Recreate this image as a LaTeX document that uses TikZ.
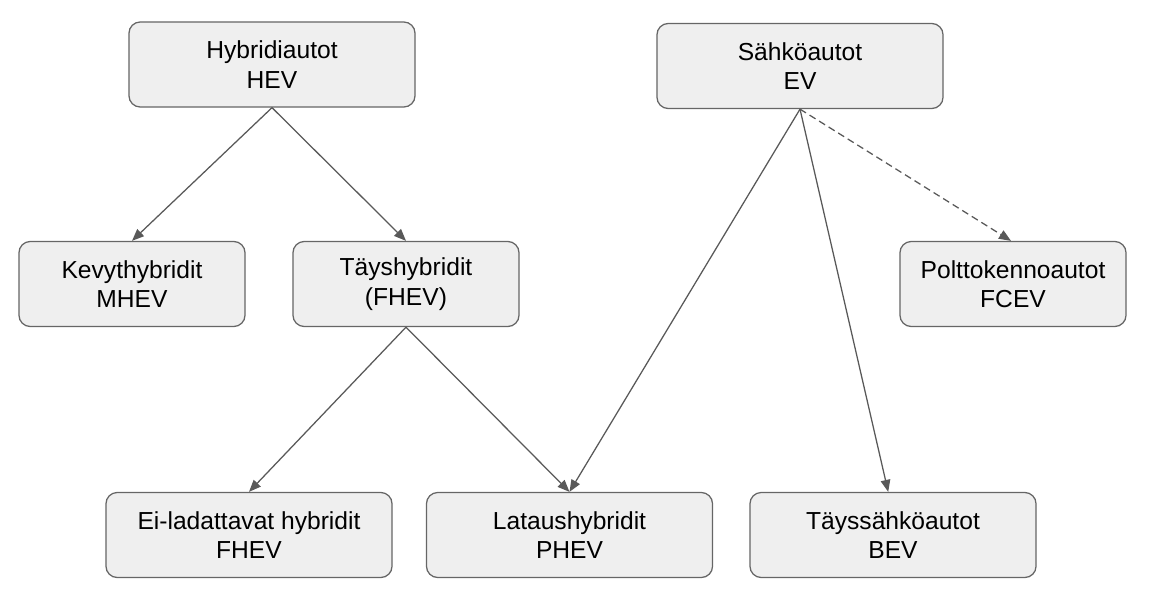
\documentclass[tikz,border=0pt]{standalone}
\usepackage{fontspec}
\setmainfont{Liberation Sans}
\usepackage{tikz}
\usetikzlibrary{positioning, arrows.meta}

\definecolor{boxfill}{HTML}{EFEFEF}
\definecolor{boxline}{HTML}{666666}
\definecolor{arrowline}{HTML}{595959}

\tikzset{
    cls/.style={draw=boxline, fill=boxfill, line width=0.9pt, rounded corners=8pt,
        align=center, minimum height=2.125cm, inner sep=0pt,
        font=\fontsize{17.5}{21}\selectfont},
    wide/.style={cls, minimum width=7.15cm},
    narrow/.style={cls, minimum width=5.65cm},
    link/.style={draw=arrowline, line width=0.9pt,
        -{Triangle[length=0.3cm, width=0.24cm]}},
}

\begin{document}
\begin{tikzpicture}[x=0.025cm, y=-0.025cm]
    \useasboundingbox (0,0) rectangle (1155,605);

    \node[wide]   at (272,64.5)  (HEV)  {Hybridiautot\\HEV};
    \node[wide]   at (800,66)    (EV)   {Sähköautot\\EV};
    \node[narrow] at (132,284)   (MHEV) {Kevythybridit\\MHEV};
    \node[narrow] at (406,284)   (FHEV) {Täyshybridit\\(FHEV)};
    \node[narrow] at (1013,284)  (FCEV) {Polttokennoautot\\FCEV};
    \node[wide]   at (249,535)   (EI)   {Ei-ladattavat hybridit\\FHEV};
    \node[wide]   at (569.5,535) (PHEV) {Lataushybridit\\PHEV};
    \node[wide]   at (893,535)   (BEV)  {Täyssähköautot\\BEV};

    \draw[link] (HEV.south) -- (MHEV.north);
    \draw[link] (HEV.south) -- (FHEV.north);
    \draw[link] (FHEV.south) -- (EI.north);
    \draw[link] (FHEV.south) -- (PHEV.north);
    \draw[link] (EV.south) -- (PHEV.north);
    \draw[link] (EV.south) -- ([xshift=-0.12cm]BEV.north);
    \draw[link, dash pattern=on 5pt off 3pt] (EV.south) -- ([xshift=-0.05cm]FCEV.north);
\end{tikzpicture}
\end{document}
